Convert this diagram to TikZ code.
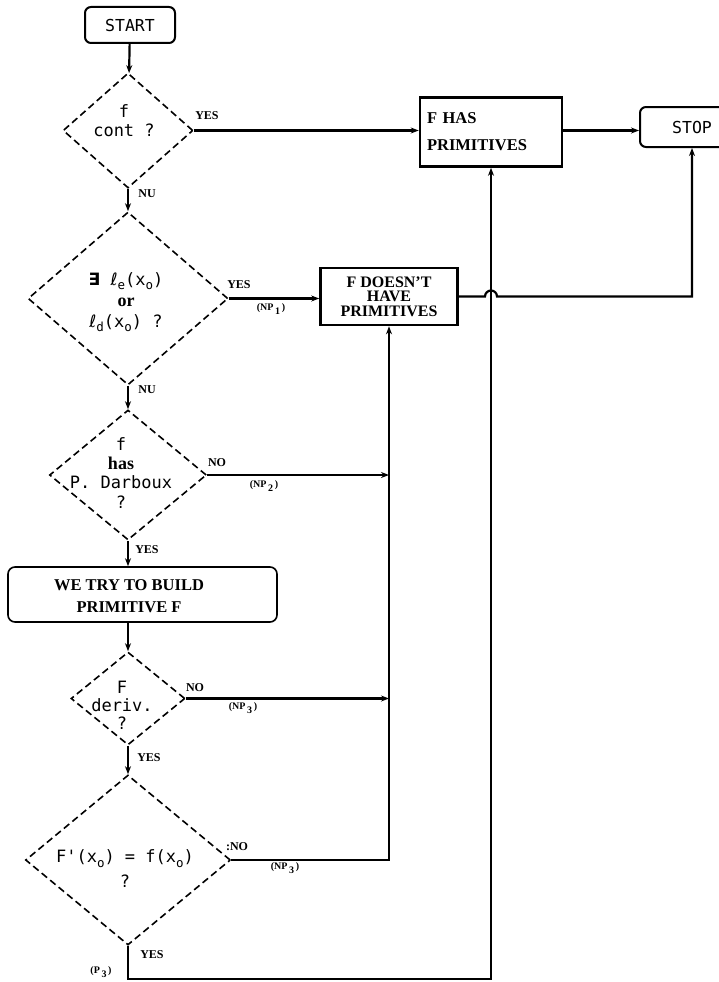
\documentclass[tikz,border=0pt]{standalone}
\usepackage{fontspec}
\setmainfont{Liberation Serif}
\newfontfamily\dotfont{DejaVu Sans Mono}
\newfontfamily\symfont{DejaVu Sans}
\usetikzlibrary{shapes.geometric, arrows.meta, positioning, calc}

\newcommand{\lo}[1]{\raisebox{-0.5ex}{\fontsize{12.5}{12.5}\selectfont #1}}
\newcommand{\npsub}[1]{\,\raisebox{-0.8ex}{#1}\,}

\begin{document}
\begin{tikzpicture}[x=1pt, y=-1pt,
  dec/.style={diamond, draw, line width=1.6pt, dash pattern=on 7pt off 4pt, inner sep=0pt},
  dtext/.style={font=\fontsize{17}{18}\selectfont\dotfont, align=center, inner sep=0pt},
  term/.style={draw, rounded corners=6pt, line width=2pt, font=\fontsize{16.5}{17}\selectfont\dotfont},
  proc/.style={draw, line width=2.6pt, font=\fontsize{16.5}{14}\selectfont\bfseries},
  lab/.style={font=\fontsize{12}{12}\selectfont\bfseries, inner sep=0pt},
  np/.style={font=\fontsize{10}{10}\selectfont\bfseries, inner sep=0pt},
  arr/.style={line width=2.2pt, -{Stealth[length=8pt,width=6pt]}},
  ln/.style={line width=2.2pt}
]
\useasboundingbox (0,0) rectangle (719,982);
\clip (0,0) rectangle (719,982);

% terminals and boxes
\node[term, minimum width=90pt, minimum height=36pt] (start) at (130,25) {START};
\node[term, minimum width=104pt, minimum height=40pt] (stop) at (692,127) {STOP};
\node[proc, minimum width=142pt, minimum height=69pt, text width=128pt, align=left] (fhas) at (491,132) {F HAS\\[13pt]PRIMITIVES};
\node[proc, minimum width=137pt, minimum height=57pt, align=center, font=\fontsize{16}{14.5}\selectfont\bfseries] (fno) at (389,296.5) {F DOESN'T\\HAVE\\PRIMITIVES};
\node[draw, rounded corners=7pt, line width=1.6pt, minimum width=269pt, minimum height=55pt] (build) at (142.5,594.5) {};
\node[font=\fontsize{16.5}{16.5}\selectfont\bfseries, align=center, inner sep=0pt] (buildtxt) at (129,596) {WE TRY TO BUILD\\[6pt]PRIMITIVE F};

% decisions
\node[dec, minimum width=130pt, minimum height=115pt] (d1) at (128,130.5) {};
\node[dtext] (t1) at (124,121) {f\\[1pt]cont ?};
\node[dec, minimum width=200pt, minimum height=173pt] (d2) at (128,298.5) {};
\node[dtext] (t2) at (126,302) {{\symfont\bfseries ∃} {\symfont ℓ}\lo{e}(x\lo{o})\\[3pt]{\rmfamily\bfseries\fontsize{18}{18}\selectfont or}\\[3pt]{\symfont ℓ}\lo{d}(x\lo{o}) ?};
\node[dec, minimum width=157pt, minimum height=130pt] (d3) at (128,475) {};
\node[dtext] (t3) at (121,473) {f\\[1pt]{\rmfamily\bfseries\fontsize{18}{18}\selectfont has}\\[1pt]P. Darboux\\[2pt]?};
\node[dec, minimum width=114pt, minimum height=93pt] (d4) at (128,698.5) {};
\node[dtext] (t4) at (122,705) {F\\deriv.\\?};
\node[dec, minimum width=205pt, minimum height=170pt] (d5) at (128,860) {};
\node[dtext] (t5) at (125,869) {F'(x\lo{o}) = f(x\lo{o})\\[7pt]?};
\coordinate (pbot) at (128,979);

% connectors
\draw[arr] (start) -- (d1);
\draw[arr] (d1) -- (d2);
\draw[arr] (d2) -- (d3);
\draw[arr] (d3.south) -- (d3.south |- build.north);
\draw[arr] (d4.north |- build.south) -- (d4.north);
\draw[arr] (d4) -- (d5);
\draw[arr] (d1.east) -- (d1.east -| fhas.west);
\draw[arr] (fhas.east |- d1.east) -- (fhas.east |- d1.east -| stop.west);
\draw[arr] (d2.east) -- (d2.east -| fno.west);
\draw[arr] (d3.east) -- (d3.east -| fno.south);
\draw[arr] (d4.east) -- (d4.east -| fno.south);
\draw[arr] (d5.east) -- (d5.east -| fno.south) -- (fno.south);
\draw[arr] (d5.south) -- (pbot) -| (fhas.south);
\draw[arr] (fno.east) -- ($(fno.east -| fhas.south)+(-6,0)$) arc[start angle=180, end angle=0, radius=6pt]
  -- (fno.east -| stop.south) -- (stop.south);

% labels
\node[lab] (yes1) at (207,116) {YES};
\node[lab] (nu1) at (147,194) {NU};
\node[lab] (yes2) at (239,285) {YES};
\node[np] (np1) at (271,309) {(NP\npsub{1})};
\node[lab] (nu2) at (147,390) {NU};
\node[lab] (no3) at (217,463) {NO};
\node[np] (np2) at (264,486) {(NP\npsub{2})};
\node[lab] (yes3) at (147,550) {YES};
\node[lab] (no4) at (195,688) {NO};
\node[np] (np3a) at (243,708) {(NP\npsub{3})};
\node[lab] (yes4) at (149,758) {YES};
\node[lab] (no5) at (237,847) {:NO};
\node[np] (np3b) at (285,868) {(NP\npsub{3})};
\node[lab] (yes5) at (152,955) {YES};
\node[np] (p3) at (101,972) {(P\npsub{3})};
\end{tikzpicture}
\end{document}
